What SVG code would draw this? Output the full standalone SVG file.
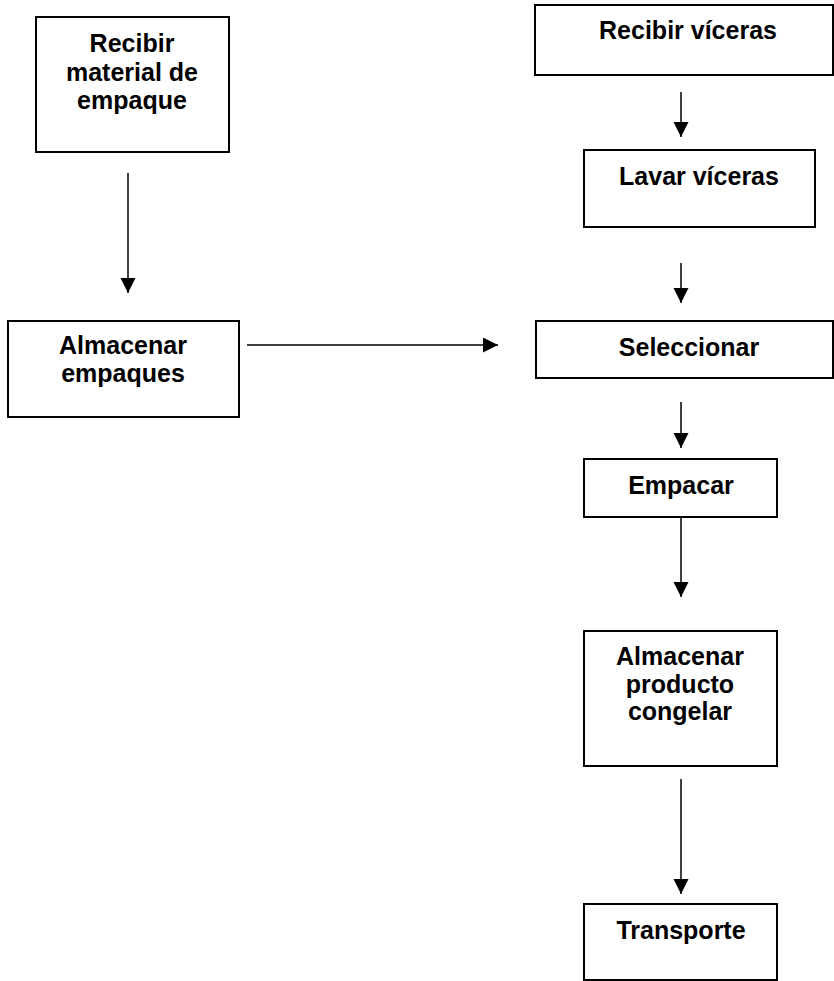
<svg xmlns="http://www.w3.org/2000/svg" width="834" height="981" viewBox="0 0 834 981">
<style>
.box{fill:#fff;stroke:#000;stroke-width:2}
.t{font-family:"Liberation Sans",Arial,sans-serif;font-weight:bold;font-size:25px;fill:#000;text-anchor:middle}
.c{stroke:#000;stroke-width:1.5;fill:none;marker-end:url(#ah)}
</style>
<defs>
<marker id="ah" markerUnits="userSpaceOnUse" markerWidth="16" markerHeight="16" refX="15" refY="7.5" orient="auto">
<path d="M0,0 L15,7.5 L0,15 z" fill="#000"/>
</marker>
</defs>
<rect width="834" height="981" fill="#fff"/>
<g id="connectors">
<line class="c" x1="128" y1="173" x2="128" y2="293"/>
<line class="c" x1="247" y1="345" x2="498" y2="345"/>
<line class="c" x1="681" y1="92" x2="681" y2="137"/>
<line class="c" x1="681" y1="263" x2="681" y2="303"/>
<line class="c" x1="681" y1="402" x2="681" y2="448"/>
<line class="c" x1="681" y1="517" x2="681" y2="597"/>
<line class="c" x1="681" y1="779" x2="681" y2="894"/>
</g>
<g id="recibir-material">
<rect class="box" x="36" y="17" width="193" height="135"/>
<text class="t" x="132" y="52">Recibir</text>
<text class="t" x="132" y="81">material de</text>
<text class="t" x="132" y="109">empaque</text>
</g>
<g id="almacenar-empaques">
<rect class="box" x="8" y="321" width="231" height="96"/>
<text class="t" x="123" y="354">Almacenar</text>
<text class="t" x="123" y="382">empaques</text>
</g>
<g id="recibir-visceras">
<rect class="box" x="535" y="5" width="298" height="70"/>
<text class="t" x="688" y="39">Recibir víceras</text>
</g>
<g id="lavar-visceras">
<rect class="box" x="584" y="150" width="231" height="77"/>
<text class="t" x="699" y="185">Lavar víceras</text>
</g>
<g id="seleccionar">
<rect class="box" x="536" y="321" width="297" height="57"/>
<text class="t" x="689" y="356">Seleccionar</text>
</g>
<g id="empacar">
<rect class="box" x="584" y="459" width="193" height="58"/>
<text class="t" x="681" y="494">Empacar</text>
</g>
<g id="almacenar-producto">
<rect class="box" x="584" y="631" width="193" height="135"/>
<text class="t" x="680" y="665">Almacenar</text>
<text class="t" x="680" y="693">producto</text>
<text class="t" x="680" y="720">congelar</text>
</g>
<g id="transporte">
<rect class="box" x="584" y="904" width="193" height="76"/>
<text class="t" x="681" y="939">Transporte</text>
</g>
</svg>
